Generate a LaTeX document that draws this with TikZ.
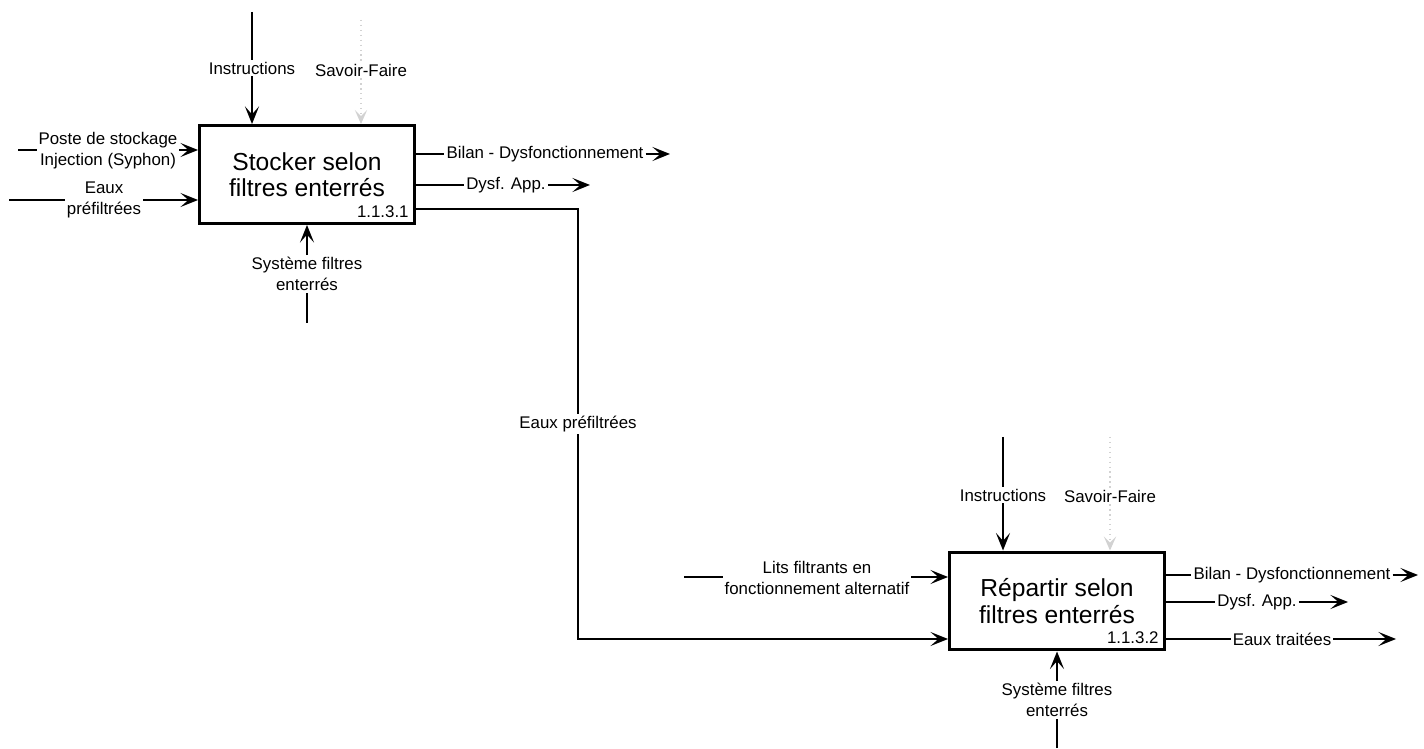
\documentclass[tikz,border=0pt]{standalone}
\usepackage{fontspec}
\setmainfont{Liberation Sans}
\usetikzlibrary{arrows.meta,positioning}

\tikzset{
  procbox/.style={draw, fill=white, line width=1.7pt, minimum width=4.3cm,
    minimum height=1.96cm, align=center, inner sep=0pt,
    font=\fontsize{14}{15}\selectfont},
  lbl/.style={fill=white, inner sep=1pt, align=center,
    font=\fontsize{9.6}{12}\selectfont},
  idlbl/.style={inner sep=4pt, anchor=south east,
    font=\fontsize{9.6}{12}\selectfont},
  plain/.style={line width=1.2pt},
  arr/.style={plain, -{Stealth[length=10pt,width=8pt,inset=4.5pt]}},
  hint/.style={gray!35, dotted, line width=0.8pt,
    -{Stealth[length=8pt,width=7pt,inset=3.5pt]}},
}

\begin{document}
\begin{tikzpicture}[x=0.02cm, y=-0.02cm]
\useasboundingbox (0,0) rectangle (1424,749);

% activity 1.1.3.1
\node[procbox] (b1) at (307,174.5) {Stocker selon\\filtres enterrés};
\node[idlbl] (id1) at (b1.south east) {1.1.3.1};

\coordinate (i1) at (252,12);
\node[lbl] (li1) at (252,68) {Instructions};
\draw[plain] (i1) -- (li1);
\draw[arr] (li1) -- (li1 |- b1.north);

\coordinate (k1) at (361,20);
\node[lbl] (lk1) at (361,70) {Savoir-Faire};
\draw[hint, -] (k1) -- (lk1);
\draw[hint] (lk1) -- (lk1 |- b1.north);

\coordinate (p1) at (18,150);
\node[lbl] (lp1) at (108,151) {Poste de stockage\\Injection (Syphon)};
\draw[plain] (p1) -- (p1 -| lp1.west);
\draw[arr] (p1 -| lp1.east) -- (p1 -| b1.west);

\coordinate (e1) at (9,200);
\node[lbl] (le1) at (104,200) {Eaux\\préfiltrées};
\draw[plain] (e1) -- (le1);
\draw[arr] (le1) -- (le1 -| b1.west);

\coordinate (s1) at (307,323);
\node[lbl] (ls1) at (307,274) {Système filtres\\enterrés};
\draw[plain] (s1) -- (ls1);
\draw[arr] (ls1) -- (ls1 |- b1.south);

\coordinate (o1) at (670,154);
\node[lbl] (lo1) at (545,154) {Bilan - Dysfonctionnement};
\draw[plain] (lo1 -| b1.east) -- (lo1);
\draw[arr] (lo1) -- (o1);

\coordinate (o2) at (590,185);
\node[lbl] (lo2) at (506,185) {Dysf. App.};
\draw[plain] (lo2 -| b1.east) -- (lo2);
\draw[arr] (lo2) -- (o2);

% activity 1.1.3.2
\node[procbox] (b2) at (1057,601) {Répartir selon\\filtres enterrés};
\node[idlbl] (id2) at (b2.south east) {1.1.3.2};

\coordinate (i2) at (1003,437);
\node[lbl] (li2) at (1003,495) {Instructions};
\draw[plain] (i2) -- (li2);
\draw[arr] (li2) -- (li2 |- b2.north);

\coordinate (k2) at (1110,437);
\node[lbl] (lk2) at (1110,496) {Savoir-Faire};
\draw[hint, -] (k2) -- (lk2);
\draw[hint] (lk2) -- (lk2 |- b2.north);

\coordinate (f2) at (684,577);
\node[lbl] (lf2) at (817,578) {Lits filtrants en\\fonctionnement alternatif};
\draw[plain] (f2) -- (f2 -| lf2.west);
\draw[arr] (f2 -| lf2.east) -- (f2 -| b2.west);

\coordinate (s2) at (1057,748);
\node[lbl] (ls2) at (1057,700) {Système filtres\\enterrés};
\draw[plain] (s2) -- (ls2);
\draw[arr] (ls2) -- (ls2 |- b2.south);

\coordinate (q1) at (1418,575);
\node[lbl] (lq1) at (1292,575) {Bilan - Dysfonctionnement};
\draw[plain] (lq1 -| b2.east) -- (lq1);
\draw[arr] (lq1) -- (q1);

\coordinate (q2) at (1348,602);
\node[lbl] (lq2) at (1257,602) {Dysf. App.};
\draw[plain] (lq2 -| b2.east) -- (lq2);
\draw[arr] (lq2) -- (q2);

\coordinate (q3) at (1396,639);
\node[lbl] (lq3) at (1282,639) {Eaux traitées};
\draw[plain] (lq3 -| b2.east) -- (lq3);
\draw[arr] (lq3) -- (q3);

% link between the two activities
\coordinate (c1) at (578,209);
\coordinate (c2) at (578,639);
\node[lbl] (lc) at (578,424) {Eaux préfiltrées};
\draw[plain] (c1 -| b1.east) -- (c1) -- (lc);
\draw[arr] (lc) -- (c2) -- (c2 -| b2.west);
\end{tikzpicture}
\end{document}
